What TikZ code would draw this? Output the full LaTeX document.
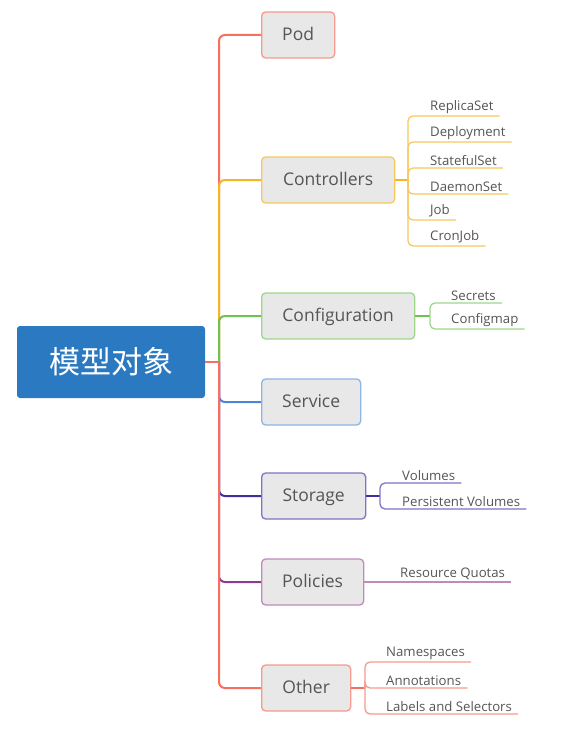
\documentclass[tikz,border=0pt]{standalone}
\usepackage{fontspec}
\setmainfont{Open Sans}
\newfontfamily\cjk{Noto Sans CJK SC}
\definecolor{rootblue}{HTML}{2B7AC1}
\definecolor{boxfill}{HTML}{E8E8E8}
\definecolor{txt}{HTML}{555555}
\definecolor{cRed}{HTML}{F6705F}
\definecolor{bRed}{HTML}{F7998C}
\definecolor{cOrange}{HTML}{F7B423}
\definecolor{bOrange}{HTML}{F8C85E}
\definecolor{cGreen}{HTML}{6CC34F}
\definecolor{bGreen}{HTML}{9BD78A}
\definecolor{cBlue}{HTML}{4A86D6}
\definecolor{bBlue}{HTML}{8DB4E6}
\definecolor{cPurple}{HTML}{3D2F9E}
\definecolor{bPurple}{HTML}{7E73C4}
\definecolor{cPlum}{HTML}{8E3A8E}
\definecolor{bPlum}{HTML}{C18ABB}
\begin{document}
\begin{tikzpicture}[x=1pt,y=-1pt,
  rootbox/.style={fill=rootblue, rounded corners=3pt, minimum width=188pt, minimum height=72pt, inner sep=0pt, text=white, font=\cjk\fontsize{31}{36}\selectfont},
  childbox/.style={draw=#1, fill=boxfill, rounded corners=4pt, line width=1.3pt, minimum height=46pt, anchor=west, inner sep=0pt, text height=11pt, text depth=0pt, text=txt, font=\fontsize{17.5}{21}\selectfont},
  branch/.style={draw=#1, line width=2pt, rounded corners=6pt},
  leaflabel/.style={anchor=south west, inner xsep=6pt, inner ysep=2.5pt, text=txt, font=\fontsize{13.2}{16}\selectfont},
  leafline/.style={draw=#1, line width=1.3pt, rounded corners=5pt}
]
\useasboundingbox (0,0) rectangle (572,733);

% root and children
\node[rootbox] (root) at (111,362) {模型对象};
\coordinate (hub) at (219,362);

\node[childbox=bRed, minimum width=73pt] (pod) at (261,35) {Pod};
\node[childbox=bOrange, minimum width=133pt] (ctrl) at (261,180) {Controllers};
\node[childbox=bGreen, minimum width=153pt] (conf) at (261,316) {Configuration};
\node[childbox=bBlue, minimum width=99pt] (svc) at (261,402) {Service};
\node[childbox=bPurple, minimum width=104pt] (stor) at (261,496) {Storage};
\node[childbox=bPlum, minimum width=102pt] (pol) at (261,582) {Policies};
\node[childbox=bRed, minimum width=89pt] (oth) at (261,688) {Other};

% trunk branches
\draw[branch=cRed] (root.east) -- (hub);
\draw[branch=cRed] (hub) |- (pod.west);
\draw[branch=cOrange] (hub) |- (ctrl.west);
\draw[branch=cGreen] (hub) |- (conf.west);
\draw[branch=cBlue] (hub) |- (svc.west);
\draw[branch=cPurple] (hub) |- (stor.west);
\draw[branch=cPlum] (hub) |- (pol.west);
\draw[branch=cRed] (hub) |- (oth.west);

% Controllers leaves
\coordinate (cj) at (408,180);
\draw[draw=cOrange, line width=2pt] (ctrl.east) -- (cj);
\node[leaflabel] (rs) at (424,116) {ReplicaSet};
\node[leaflabel] (dp) at (424,142) {Deployment};
\node[leaflabel] (ss) at (424,168) {StatefulSet};
\node[leaflabel] (ds) at (424,194) {DaemonSet};
\node[leaflabel] (jb) at (424,220) {Job};
\node[leaflabel] (cjb) at (424,246) {CronJob};
\foreach \n in {rs,dp,ss,ds,jb,cjb}{\draw[leafline=bOrange] (cj) |- (\n.south east);}

% Configuration leaves
\coordinate (gj) at (430,316);
\draw[draw=cGreen, line width=2pt] (conf.east) -- (gj);
\node[leaflabel] (sec) at (445,303) {Secrets};
\node[leaflabel] (cm) at (445,329) {Configmap};
\foreach \n in {sec,cm}{\draw[leafline=bGreen] (gj) |- (\n.south east);}

% Storage leaves
\coordinate (sj) at (380,496);
\draw[draw=cPurple, line width=2pt] (stor.east) -- (sj);
\node[leaflabel] (vol) at (396,483) {Volumes};
\node[leaflabel] (pv) at (396,509) {Persistent Volumes};
\foreach \n in {vol,pv}{\draw[leafline=bPurple] (sj) |- (\n.south east);}

% Policies leaf
\node[leaflabel] (rq) at (394,582) {Resource Quotas};
\draw[leafline=bPlum] (pol.east) -- (rq.south east);

% Other leaves
\coordinate (oj) at (365,688);
\draw[draw=cRed, line width=2pt] (oth.east) -- (oj);
\node[leaflabel] (ns) at (380,662) {Namespaces};
\node[leaflabel] (an) at (380,688) {Annotations};
\node[leaflabel] (ls) at (380,714) {Labels and Selectors};
\foreach \n in {ns,an,ls}{\draw[leafline=bRed] (oj) |- (\n.south east);}
\end{tikzpicture}
\end{document}
